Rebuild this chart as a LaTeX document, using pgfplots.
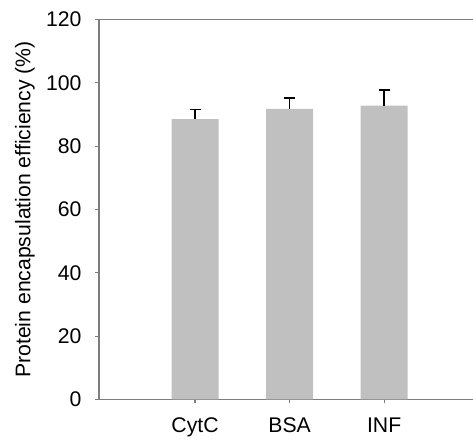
\documentclass[border=0pt]{standalone}
\usepackage{pgfplots}
\pgfplotsset{compat=1.18}
\usepackage{fontspec}
\setmainfont{Liberation Sans}
\definecolor{axgray}{RGB}{125,125,125}
\definecolor{bargray}{RGB}{192,192,192}
\begin{document}
\fontsize{10.6}{12.7}\selectfont
\begin{tikzpicture}
\begin{axis}[
  scale only axis,
  width=187pt, height=190pt,
  xmin=-1.016, xmax=2.94, ymin=0, ymax=120,
  axis x line*=bottom, axis y line*=left,
  axis line style={axgray, line width=0.8pt},
  x axis line style={-}, y axis line style={-},
  ytick={0,20,40,60,80,100,120},
  xtick={0,1,2}, xticklabels={CytC,BSA,INF},
  tick style={axgray, line width=0.6pt},
  tick align=outside, major tick length=2pt,
  /pgf/number format/assume math mode=true,
  ticklabel style={font=\fontsize{10.6}{12.7}\selectfont},
  yticklabel style={xshift=-3pt},
  xticklabel style={yshift=-3.5pt},
  every axis y label/.style={at={(axis description cs:0,0.5)}, anchor=center, xshift=-37pt, rotate=90},
  ylabel={Protein encapsulation efficiency (\%)},
  label style={font=\fontsize{10.6}{12.7}\selectfont},
  ybar, bar width=23.5pt,
  clip=false,
]
\addplot[draw=none, fill=bargray,
  error bars/.cd, y dir=plus, y explicit,
  error bar style={black, line width=0.8pt},
  error mark options={rotate=90, mark size=2.75pt, line width=0.8pt, black}]
  table[x=x, y=y, y error=e] {
x y e
0 88.5 3.1
1 91.8 3.4
2 92.8 4.9
};
\draw[axgray, line width=0.8pt] (rel axis cs:0,1) -- (rel axis cs:1,1);
\coordinate (bl) at (rel axis cs:0,0);
\coordinate (tr) at (rel axis cs:1,1);
\end{axis}
\pgfresetboundingbox
\path ([xshift=-49.5pt, yshift=-22pt]bl) rectangle ([yshift=9.75pt]tr);
\end{tikzpicture}
\end{document}
